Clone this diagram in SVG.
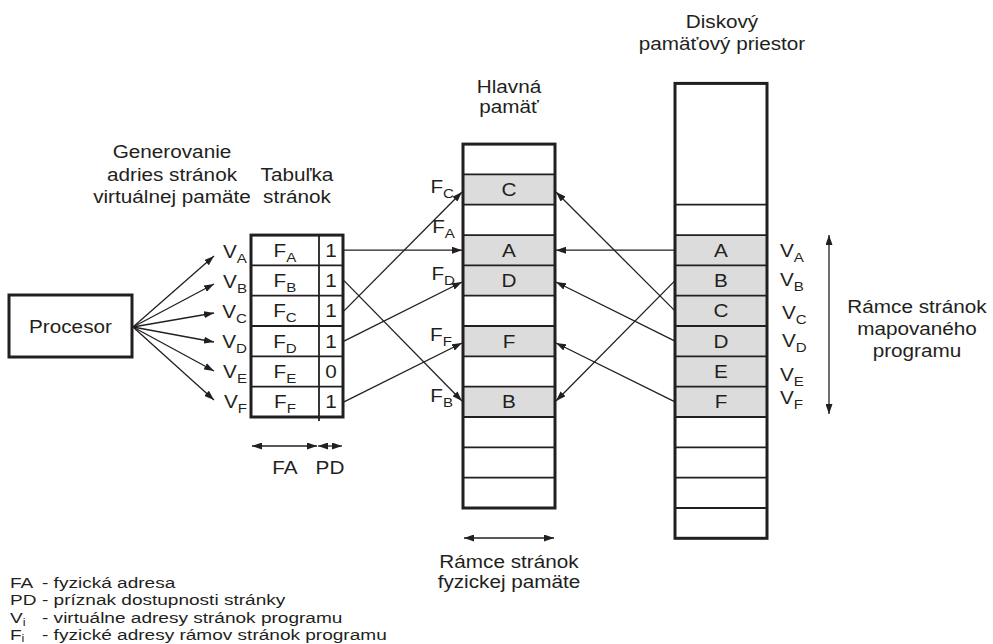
<svg xmlns="http://www.w3.org/2000/svg" width="993" height="644" viewBox="0 0 993 644">
  <style>
    text { font-family: "Liberation Sans", Arial, sans-serif; font-size: 18.5px; fill: #231f20; }
    .c { text-anchor: middle; transform-box: fill-box; transform-origin: center; transform: scaleX(1.12); }
    .s { text-anchor: start; transform-box: fill-box; transform-origin: left center; transform: scaleX(1.12); }
    .e { text-anchor: end; transform-box: fill-box; transform-origin: right center; transform: scaleX(1.12); }
    .sub { font-size: 13.5px; }
    .lg { font-size: 15px; transform: scaleX(1.27); }
    .lgsub { font-size: 10px; }
    .frame { fill: none; stroke: #231f20; stroke-width: 3; }
    .row { stroke: #231f20; stroke-width: 1.8; fill: none; }
    .used { fill: #dcdcdc; stroke: none; }
    .link { fill: none; stroke: #231f20; stroke-width: 1.3; marker-end: url(#head); }
    .span { fill: none; stroke: #231f20; stroke-width: 1.3; marker-start: url(#head2); marker-end: url(#head2); }
  </style>
  <defs>
    <marker id="head" markerUnits="userSpaceOnUse" markerWidth="10" markerHeight="7" refX="10" refY="3.5" orient="auto">
      <path d="M0,0 L10,3.5 L0,7 Z" fill="#231f20"/>
    </marker>
    <marker id="head2" markerUnits="userSpaceOnUse" markerWidth="10" markerHeight="7" refX="10" refY="3.5" orient="auto-start-reverse">
      <path d="M0,0 L10,3.5 L0,7 Z" fill="#231f20"/>
    </marker>
  </defs>

  <rect width="993" height="644" fill="#ffffff"/>

  <!-- processor -->
  <g id="procesor">
    <rect class="frame" x="9" y="295" width="123" height="62"/>
    <text class="c" x="70.5" y="333">Procesor</text>
  </g>

  <!-- page table: physical address column + presence flag column -->
  <g id="page-table">
    <line class="row" x1="251" y1="265.4" x2="343" y2="265.4"/>
    <line class="row" x1="251" y1="295.7" x2="343" y2="295.7"/>
    <line class="row" x1="251" y1="326.0" x2="343" y2="326.0"/>
    <line class="row" x1="251" y1="356.4" x2="343" y2="356.4"/>
    <line class="row" x1="251" y1="386.7" x2="343" y2="386.7"/>
    <line class="row" x1="319" y1="235.1" x2="319" y2="421"/>
    <rect class="frame" x="251" y="235.1" width="92" height="181.9"/>
    <text class="c" x="285" y="256.7">F<tspan class="sub" dy="5">A</tspan></text>
    <text class="c" x="285" y="287.1">F<tspan class="sub" dy="5">B</tspan></text>
    <text class="c" x="285" y="317.4">F<tspan class="sub" dy="5">C</tspan></text>
    <text class="c" x="285" y="347.7">F<tspan class="sub" dy="5">D</tspan></text>
    <text class="c" x="285" y="378.0">F<tspan class="sub" dy="5">E</tspan></text>
    <text class="c" x="285" y="408.4">F<tspan class="sub" dy="5">F</tspan></text>
    <text class="c" x="331" y="256.7">1</text>
    <text class="c" x="331" y="287.1">1</text>
    <text class="c" x="331" y="317.4">1</text>
    <text class="c" x="331" y="347.7">1</text>
    <text class="c" x="331" y="378.0">0</text>
    <text class="c" x="331" y="408.4">1</text>
  </g>

  <!-- virtual page addresses generated by the processor -->
  <g id="virtual-addresses">
    <text class="e" x="247" y="258">V<tspan class="sub" dy="5">A</tspan></text>
    <text class="e" x="247" y="288">V<tspan class="sub" dy="5">B</tspan></text>
    <text class="e" x="247" y="318">V<tspan class="sub" dy="5">C</tspan></text>
    <text class="e" x="247" y="348">V<tspan class="sub" dy="5">D</tspan></text>
    <text class="e" x="247" y="378">V<tspan class="sub" dy="5">E</tspan></text>
    <text class="e" x="247" y="408">V<tspan class="sub" dy="5">F</tspan></text>
  </g>

  <!-- main memory frames -->
  <g id="main-memory">
    <rect class="used" x="463" y="174.4" width="92" height="30.3"/>
    <rect class="used" x="463" y="235.1" width="92" height="60.6"/>
    <rect class="used" x="463" y="326.0" width="92" height="30.4"/>
    <rect class="used" x="463" y="386.7" width="92" height="30.3"/>
    <line class="row" x1="463" y1="174.4" x2="555" y2="174.4"/>
    <line class="row" x1="463" y1="204.7" x2="555" y2="204.7"/>
    <line class="row" x1="463" y1="235.1" x2="555" y2="235.1"/>
    <line class="row" x1="463" y1="265.4" x2="555" y2="265.4"/>
    <line class="row" x1="463" y1="295.7" x2="555" y2="295.7"/>
    <line class="row" x1="463" y1="326.0" x2="555" y2="326.0"/>
    <line class="row" x1="463" y1="356.4" x2="555" y2="356.4"/>
    <line class="row" x1="463" y1="386.7" x2="555" y2="386.7"/>
    <line class="row" x1="463" y1="417.0" x2="555" y2="417.0"/>
    <line class="row" x1="463" y1="447.4" x2="555" y2="447.4"/>
    <line class="row" x1="463" y1="477.7" x2="555" y2="477.7"/>
    <rect class="frame" x="463" y="144.1" width="92" height="363.9"/>
    <text class="c" x="509" y="196">C</text>
    <text class="c" x="509" y="256.7">A</text>
    <text class="c" x="509" y="287.1">D</text>
    <text class="c" x="509" y="347.7">F</text>
    <text class="c" x="509" y="408.4">B</text>
    <text class="e" x="454" y="193">F<tspan class="sub" dy="5">C</tspan></text>
    <text class="e" x="455" y="233">F<tspan class="sub" dy="5">A</tspan></text>
    <text class="e" x="455" y="280">F<tspan class="sub" dy="5">D</tspan></text>
    <text class="e" x="452" y="341">F<tspan class="sub" dy="5">F</tspan></text>
    <text class="e" x="453" y="402">F<tspan class="sub" dy="5">B</tspan></text>
  </g>

  <!-- disk page space -->
  <g id="disk">
    <rect class="used" x="675" y="235.1" width="92" height="181.9"/>
    <line class="row" x1="675" y1="204.7" x2="767" y2="204.7"/>
    <line class="row" x1="675" y1="235.1" x2="767" y2="235.1"/>
    <line class="row" x1="675" y1="265.4" x2="767" y2="265.4"/>
    <line class="row" x1="675" y1="295.7" x2="767" y2="295.7"/>
    <line class="row" x1="675" y1="326.0" x2="767" y2="326.0"/>
    <line class="row" x1="675" y1="356.4" x2="767" y2="356.4"/>
    <line class="row" x1="675" y1="386.7" x2="767" y2="386.7"/>
    <line class="row" x1="675" y1="417.0" x2="767" y2="417.0"/>
    <line class="row" x1="675" y1="447.4" x2="767" y2="447.4"/>
    <line class="row" x1="675" y1="477.7" x2="767" y2="477.7"/>
    <line class="row" x1="675" y1="508.0" x2="767" y2="508.0"/>
    <rect class="frame" x="675" y="83.4" width="92" height="454.9"/>
    <text class="c" x="721" y="256.7">A</text>
    <text class="c" x="721" y="287.1">B</text>
    <text class="c" x="721" y="317.4">C</text>
    <text class="c" x="721" y="347.7">D</text>
    <text class="c" x="721" y="378.0">E</text>
    <text class="c" x="721" y="408.4">F</text>
    <text class="s" x="780" y="257">V<tspan class="sub" dy="5">A</tspan></text>
    <text class="s" x="780" y="286">V<tspan class="sub" dy="5">B</tspan></text>
    <text class="s" x="782" y="319">V<tspan class="sub" dy="5">C</tspan></text>
    <text class="s" x="782" y="347">V<tspan class="sub" dy="5">D</tspan></text>
    <text class="s" x="780" y="381">V<tspan class="sub" dy="5">E</tspan></text>
    <text class="s" x="780" y="404">V<tspan class="sub" dy="5">F</tspan></text>
  </g>

  <!-- connectors -->
  <g id="connectors">
    <!-- processor to virtual addresses -->
    <line class="link" x1="133" y1="327" x2="214" y2="256"/>
    <line class="link" x1="133" y1="327" x2="214" y2="284"/>
    <line class="link" x1="133" y1="327" x2="214" y2="313"/>
    <line class="link" x1="133" y1="327" x2="214" y2="342"/>
    <line class="link" x1="133" y1="327" x2="214" y2="371"/>
    <line class="link" x1="133" y1="327" x2="214" y2="400"/>
    <!-- page table to main memory frames -->
    <line class="link" x1="344" y1="250.2" x2="462" y2="250.2"/>
    <line class="link" x1="344" y1="280.6" x2="462" y2="401"/>
    <line class="link" x1="344" y1="310.9" x2="462" y2="192"/>
    <line class="link" x1="344" y1="341.2" x2="462" y2="282"/>
    <line class="link" x1="344" y1="401.9" x2="462" y2="343"/>
    <!-- disk pages loaded into main memory -->
    <line class="link" x1="675" y1="310.9" x2="556" y2="192"/>
    <line class="link" x1="675" y1="250.2" x2="556" y2="250.2"/>
    <line class="link" x1="675" y1="341.2" x2="556" y2="282"/>
    <line class="link" x1="675" y1="401.9" x2="556" y2="343"/>
    <line class="link" x1="675" y1="280.6" x2="556" y2="401"/>
    <!-- dimension arrows -->
    <line class="span" x1="252" y1="446" x2="317" y2="446"/>
    <line class="span" x1="318" y1="446" x2="342" y2="446"/>
    <line class="span" x1="464" y1="538" x2="554" y2="538"/>
    <line class="span" x1="829" y1="235" x2="829" y2="414"/>
  </g>

  <!-- captions -->
  <g id="captions">
    <text class="c" x="172" y="158">Generovanie</text>
    <text class="c" x="172" y="181">adries stránok</text>
    <text class="c" x="172" y="203">virtuálnej pamäte</text>
    <text class="c" x="297" y="181">Tabuľka</text>
    <text class="c" x="297" y="203">stránok</text>
    <text class="c" x="509" y="93">Hlavná</text>
    <text class="c" x="509" y="113">pamäť</text>
    <text class="c" x="722" y="28">Diskový</text>
    <text class="c" x="722" y="50">pamäťový priestor</text>
    <text class="c" x="917" y="313">Rámce stránok</text>
    <text class="c" x="917" y="335">mapovaného</text>
    <text class="c" x="917" y="357">programu</text>
    <text class="c" x="285" y="474">FA</text>
    <text class="c" x="330" y="474">PD</text>
    <text class="c" x="509" y="568">Rámce stránok</text>
    <text class="c" x="509" y="588">fyzickej pamäte</text>
  </g>

  <!-- legend -->
  <g id="legend">
    <text class="s lg" x="10" y="588">FA</text>
    <text class="s lg" x="42" y="588">- fyzická adresa</text>
    <text class="s lg" x="10" y="605.5">PD</text>
    <text class="s lg" x="42" y="605.5">- príznak dostupnosti stránky</text>
    <text class="s lg" x="10" y="623">V<tspan class="lgsub" dy="3">i</tspan></text>
    <text class="s lg" x="42" y="623">- virtuálne adresy stránok programu</text>
    <text class="s lg" x="10" y="640">F<tspan class="lgsub" dy="2">i</tspan></text>
    <text class="s lg" x="42" y="640">- fyzické adresy rámov stránok programu</text>
  </g>
</svg>
